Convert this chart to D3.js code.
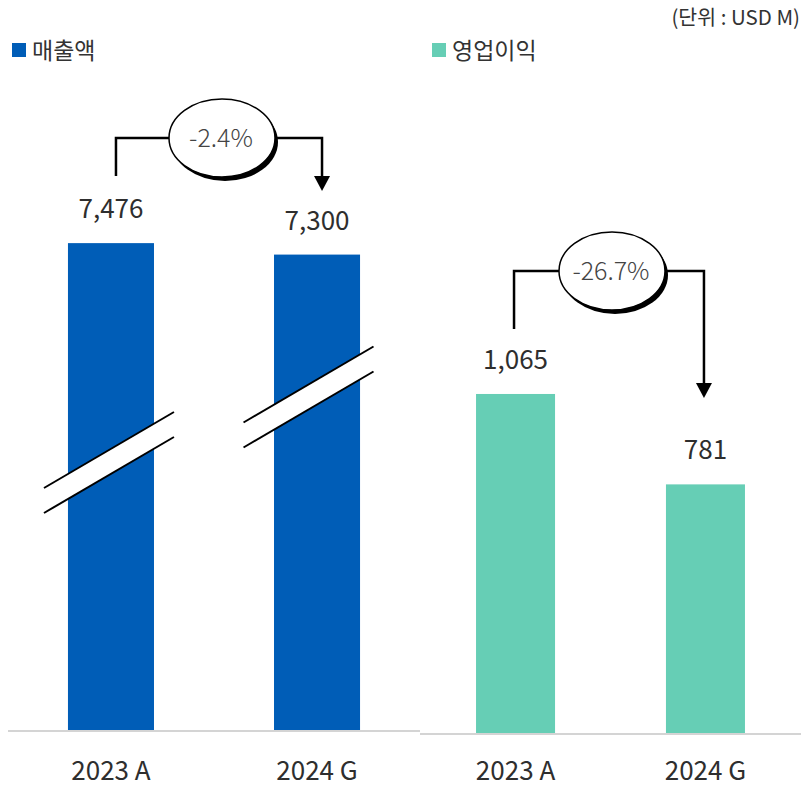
<!DOCTYPE html>
<html>
<head>
<meta charset="utf-8" />
<title>매출액 / 영업이익</title>
<script src="https://cdn.jsdelivr.net/npm/d3@7/dist/d3.min.js"></script>
<style>
    body { margin: 0; background: #fff; }
    svg { display: block; font-family: "Noto Sans CJK KR", "Noto Sans", sans-serif; }
    .lbl { fill: #2e2e2e; font-size: 26px; }
    .legend-text { fill: #333; font-size: 23px; }
    .pct { fill: #444; font-size: 25px; font-weight: 300; }
</style>
</head>
<body>
<div id="chart"></div>
<script>
// data
var years = ["2023 A", "2024 G"];
var sales = [7476, 7300];      // 매출액
var profit = [1065, 781];      // 영업이익
var salesChange = "-2.4%";
var profitChange = "-26.7%";
var unitText = "(단위 : USD M)";

var W = 801, H = 787;
var blue = "#005db7", green = "#66ceb5";

var svg = d3.select("#chart").append("svg")
    .attr("width", W).attr("height", H);

// scales for the two panels
var xL = d3.scaleBand().domain(years).range([8, 420]).paddingInner(0.5825).paddingOuter(0.291);
var yL = d3.scaleLinear().domain([0, 8000]).range([730, 209]);
var xR = d3.scaleBand().domain(years).range([420, 801]).paddingInner(0.584).paddingOuter(0.295);
var yR = d3.scaleLinear().domain([0, 1200]).range([733, 351]);

function fmt(v) { return d3.format(",")(v); }

function panel(x, y, values, color, cls, labelY) {
    var g = svg.append("g").attr("class", cls);
    // baseline
    g.append("line")
        .attr("x1", x.range()[0]).attr("x2", x.range()[1])
        .attr("y1", y(0) + 1).attr("y2", y(0) + 1)
        .attr("stroke", "#d4d4d4").attr("stroke-width", 2);

    g.selectAll("rect.bar").data(values).enter().append("rect")
        .attr("class", "bar")
        .attr("x", function(d, i) { return x(years[i]); })
        .attr("y", function(d) { return y(d); })
        .attr("width", x.bandwidth())
        .attr("height", function(d) { return y(0) - y(d); })
        .attr("fill", color);

    g.selectAll("text.val").data(values).enter().append("text")
        .attr("class", "lbl val")
        .attr("text-anchor", "middle")
        .attr("x", function(d, i) { return x(years[i]) + x.bandwidth() / 2; })
        .attr("y", function(d) { return y(d) - 25; })
        .text(fmt);

    g.selectAll("text.cat").data(years).enter().append("text")
        .attr("class", "lbl cat")
        .attr("text-anchor", "middle")
        .attr("x", function(d) { return x(d) + x.bandwidth() / 2; })
        .attr("y", labelY)
        .text(function(d) { return d; });
    return g;
}

var gL = panel(xL, yL, sales, blue, "sales", 780);
var gR = panel(xR, yR, profit, green, "profit", 780);

// axis break marks on the sales bars
function breakMark(cx, cy) {
    var hw = 65, dy = 38, gap = 25;
    var x0 = cx - hw, x1 = cx + hw;
    svg.append("path")
        .attr("d", "M" + x0 + "," + (cy + dy) + "L" + x1 + "," + (cy - dy) +
                   "L" + x1 + "," + (cy - dy + gap) + "L" + x0 + "," + (cy + dy + gap) + "Z")
        .attr("fill", "#fff");
    [0, gap].forEach(function(o) {
        svg.append("line")
            .attr("x1", x0).attr("y1", cy + dy + o)
            .attr("x2", x1).attr("y2", cy - dy + o)
            .attr("stroke", "#000").attr("stroke-width", 2);
    });
}
breakMark(xL(years[0]) + xL.bandwidth() / 2 - 2, 450);
breakMark(xL(years[1]) + xL.bandwidth() / 2 - 8.5, 384.5);

// change bracket with ellipse badge
function bracket(xa, xb, lineY, startY, tipY, label) {
    var cx = (xa + xb) / 2 + 3, rx = 53, ry = 39;
    var g = svg.append("g");
    g.append("path")
        .attr("d", "M" + xa + "," + startY + "V" + lineY + "H" + (cx - rx))
        .attr("stroke", "#000").attr("stroke-width", 2.5).attr("fill", "none");
    g.append("path")
        .attr("d", "M" + (cx + rx) + "," + lineY + "H" + xb + "V" + (tipY - 12))
        .attr("stroke", "#000").attr("stroke-width", 2.5).attr("fill", "none");
    g.append("path")
        .attr("d", "M" + (xb - 8) + "," + (tipY - 15) + "L" + (xb + 8) + "," + (tipY - 15) + "L" + xb + "," + tipY + "Z")
        .attr("fill", "#000");
    g.append("ellipse")
        .attr("cx", cx + 3).attr("cy", lineY + 4).attr("rx", rx).attr("ry", ry)
        .attr("fill", "#000");
    g.append("ellipse")
        .attr("cx", cx).attr("cy", lineY).attr("rx", rx).attr("ry", ry)
        .attr("fill", "#fff").attr("stroke", "#000").attr("stroke-width", 1.5);
    g.append("text")
        .attr("class", "pct")
        .attr("text-anchor", "middle")
        .attr("x", cx - 1).attr("y", lineY + 9)
        .text(label);
}
bracket(xL(years[0]) + xL.bandwidth() / 2 + 5, xL(years[1]) + xL.bandwidth() / 2 + 5,
        138, 176, 191, salesChange);
bracket(xR(years[0]) + xR.bandwidth() / 2 - 1.5, xR(years[1]) + xR.bandwidth() / 2 - 1.5,
        271, 329, 398, profitChange);

// legends
var legend = [{ name: "매출액", color: blue, x: 12 }, { name: "영업이익", color: green, x: 432 }];
legend.forEach(function(l) {
    svg.append("rect").attr("x", l.x).attr("y", 43).attr("width", 14).attr("height", 14).attr("fill", l.color);
    svg.append("text").attr("class", "legend-text").attr("x", l.x + 20).attr("y", 59).text(l.name);
});

svg.append("text")
    .attr("x", 800).attr("y", 25)
    .attr("text-anchor", "end")
    .attr("fill", "#333").style("font-size", "20.5px")
    .text(unitText);
</script>
</body>
</html>
